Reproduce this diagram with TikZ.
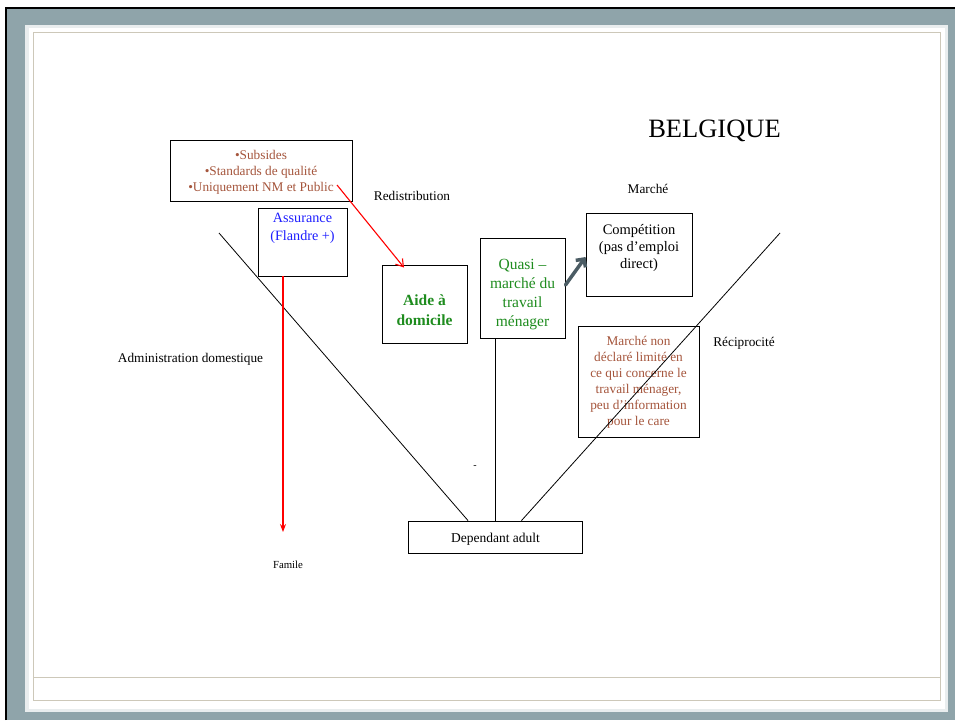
\documentclass[tikz,border=0pt]{standalone}
\usepackage{fontspec}
\setmainfont{Liberation Serif}
\usetikzlibrary{arrows.meta,backgrounds}
\definecolor{frameGray}{RGB}{143,164,170}
\definecolor{brownT}{RGB}{165,85,60}
\definecolor{greenT}{RGB}{30,140,30}
\definecolor{blueT}{RGB}{30,30,255}
\definecolor{beigeL}{RGB}{205,200,185}
\definecolor{arrowGray}{RGB}{75,92,100}
\begin{document}
\begin{tikzpicture}[x=1pt,y=-1pt,
  box/.style={draw=black, fill=white, line width=0.9pt, inner sep=0pt},
  lbl/.style={font=\fontsize{13.3}{16}\selectfont, inner sep=0pt, align=center},
  txt/.style={lbl, yshift=-2pt},
  redarrow/.style={draw=red, line width=1.1pt, -{Straight Barb[length=7pt,width=9pt]}},
  thinline/.style={draw=black, line width=0.8pt}]
\useasboundingbox (0,0) rectangle (955,720);

% boxes
\node[box, minimum width=182, minimum height=61] (sub) at (261,170.5) {};
\node[txt, text=brownT] (subT) at (261,170.5)
  {•Subsides\\•Standards de qualité\\•Uniquement NM et Public};
\node[box, minimum width=89, minimum height=68] (assur) at (302.5,242) {};
\node[lbl, font=\fontsize{14.2}{18}\selectfont, text=blueT, anchor=north] (assurT) at (302.5,213) {Assurance\\(Flandre +)};
\node[box, minimum width=85, minimum height=78] (aide) at (424.5,304) {};
\node[txt, font=\fontsize{15.5}{20}\selectfont\bfseries, text=greenT] (aideT) at (424.5,308) {Aide à\\domicile};
\node[box, minimum width=85, minimum height=100] (quasi) at (522.5,288) {};
\node[txt, font=\fontsize{15.5}{19}\selectfont, text=greenT] (quasiT) at (522.5,292.5) {Quasi –\\marché du\\travail\\ménager};
\node[box, minimum width=106, minimum height=83] (comp) at (639,254.5) {};
\node[txt, font=\fontsize{14.5}{17}\selectfont] (compT) at (639,246) {Compétition\\(pas d’emploi\\direct)};
\node[box, minimum width=121, minimum height=111] (nondecl) at (638.5,381.5) {};
\node[txt, text=brownT] (nondeclT) at (638.5,380) {Marché non\\déclaré limité en\\ce qui concerne le\\travail ménager,\\peu d’information\\pour le care};
\node[box, minimum width=174, minimum height=32] (dep) at (495.5,537) {};
\node[txt, font=\fontsize{13.5}{16}\selectfont] (depT) at (495.5,537) {Dependant adult};

% free labels
\node[lbl, font=\fontsize{26.5}{30}\selectfont, yshift=-3pt] (title) at (714.5,128) {BELGIQUE};
\node[txt] (redis) at (412,194) {Redistribution};
\node[txt] (marche) at (648,187) {Marché};
\node[txt] (recip) at (744,341) {Réciprocité};
\node[txt] (admin) at (190.5,357) {Administration domestique};
\node[txt, font=\fontsize{10.8}{13}\selectfont] (famile) at (288,563) {Famile};
\node[txt, font=\fontsize{10}{12}\selectfont] (dash) at (475,465) {-};

\coordinate (lt) at (219,233);
\coordinate (rt) at (780,233);
\coordinate (redstart) at (337,185);
\coordinate (famarrow) at (283,532);

\begin{scope}[on background layer]
  \fill[white] (0,0) rectangle (955,720);
  \fill[frameGray] (5,7) rectangle (955,720);
  \draw[black, line width=2.5pt] (6,720) -- (6,8) -- (955,8);
  \fill[white!80!frameGray] (25,25) rectangle (948,712);
  \fill[white] (29,28) rectangle (945,709);
  \draw[beigeL, line width=0.8pt] (33,32) rectangle (940,700);
  \draw[beigeL, line width=0.8pt] (33,677) -- (940,677);
  \draw[thinline] (lt) -- ([xshift=-27.5pt]dep.north);
  \draw[thinline] (quasi.south -| dep.north) -- (dep.north);
\end{scope}

\draw[thinline] (rt) -- ([xshift=26pt]dep.north);
\draw[redarrow] (redstart) -- ([xshift=-20.5pt,yshift=-3pt]aide.north);
\draw[redarrow, -{Stealth[length=8pt,width=6pt]}] ([xshift=-19.5pt]assur.south) -- (famarrow);
\draw[arrowGray, line width=3.5pt, line cap=round, -{Straight Barb[length=6pt,width=12pt]}] ([yshift=3pt]quasi.east) -- ([yshift=-2.5pt]comp.west);
\end{tikzpicture}
\end{document}
